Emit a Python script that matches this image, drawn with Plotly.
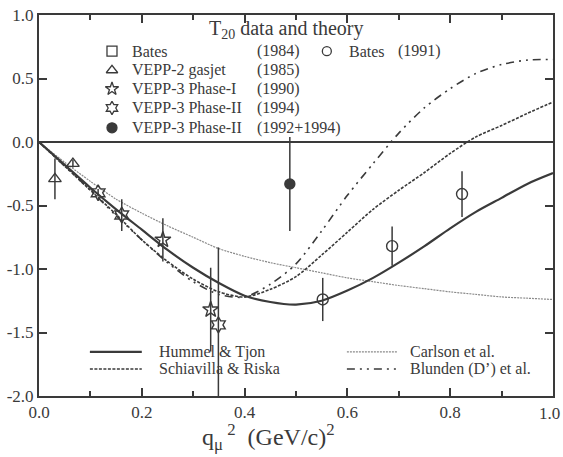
import plotly.graph_objects as go

# ---------------- data ----------------
q_grid = [0.0, 0.05, 0.1, 0.15, 0.2, 0.25, 0.3, 0.35, 0.4, 0.45, 0.5,
          0.55, 0.6, 0.65, 0.7, 0.75, 0.8, 0.85, 0.9, 0.95, 1.0]
hummel_tjon = [0.0, -0.18, -0.36, -0.53, -0.69, -0.85, -0.99, -1.11, -1.21, -1.26, -1.28,
               -1.25, -1.17, -1.07, -0.95, -0.82, -0.68, -0.55, -0.44, -0.33, -0.245]
schiavilla_riska = [0.0, -0.19, -0.38, -0.57, -0.77, -0.94, -1.08, -1.18, -1.22, -1.16, -1.06,
                    -0.89, -0.71, -0.53, -0.38, -0.24, -0.09, 0.04, 0.13, 0.225, 0.315]
carlson = [0.0, -0.16, -0.31, -0.45, -0.56, -0.66, -0.75, -0.84, -0.90, -0.95, -0.99,
           -1.03, -1.07, -1.10, -1.13, -1.155, -1.18, -1.20, -1.22, -1.23, -1.24]
blunden = [0.0, -0.19, -0.38, -0.58, -0.77, -0.95, -1.10, -1.20, -1.22, -1.12, -0.96,
           -0.70, -0.42, -0.17, 0.07, 0.27, 0.42, 0.54, 0.61, 0.645, 0.65]

vepp2_q = [0.031, 0.066]
vepp2_t = [-0.29, -0.17]
vepp2_e = [0.16, 0.03]

vepp3_1_q = [0.241, 0.334]
vepp3_1_t = [-0.77, -1.32]
vepp3_1_e = [0.17, 0.33]

vepp3_2_q = [0.115, 0.161, 0.349]
vepp3_2_t = [-0.40, -0.575, -1.44]
vepp3_2_e = [0.03, 0.125, 0.61]

vepp3_c_q = [0.488]
vepp3_c_t = [-0.33]
vepp3_c_e = [0.37]

bates91_q = [0.552, 0.687, 0.823]
bates91_t = [-1.24, -0.82, -0.41]
bates91_e = [0.17, 0.155, 0.18]

x_ticks = [0.0, 0.2, 0.4, 0.6, 0.8, 1.0]
x_tick_labels = ["0.0", "0.2", "0.4", "0.6", "0.8", "1.0"]
y_ticks = [1.0, 0.5, 0.0, -0.5, -1.0, -1.5, -2.0]
y_tick_labels = ["1.0", "0.5", "0.0", "-0.5", "-1.0", "-1.5", "-2.0"]

data_legend = [
    ("square-open", "Bates", "(1984)"),
    ("triangle-up-open", "VEPP-2 gasjet", "(1985)"),
    ("star-open", "VEPP-3 Phase-I", "(1990)"),
    ("hexagram-open", "VEPP-3 Phase-II", "(1994)"),
    ("circle", "VEPP-3 Phase-II", "(1992+1994)"),
]
curve_legend = ["Hummel & Tjon", "Schiavilla & Riska", "Carlson et al.", "Blunden (D’) et al."]

# ---------------- style ----------------
INK = "#3a3a3a"
FONT = "Liberation Serif"
DASH_S = "3px,1.5px"
DASH_C = "2px,1px"
DASH_B = "8px,5px,2px,5px,2px,5px"

fig = go.Figure()

# theory curves
fig.add_trace(go.Scatter(x=q_grid, y=carlson, mode="lines", line=dict(color="#8a8a8a", width=1.2, dash=DASH_C, shape="spline", smoothing=0.8)))
fig.add_trace(go.Scatter(x=q_grid, y=blunden, mode="lines", line=dict(color=INK, width=1.6, dash=DASH_B, shape="spline", smoothing=0.8)))
fig.add_trace(go.Scatter(x=q_grid, y=schiavilla_riska, mode="lines", line=dict(color=INK, width=1.6, dash=DASH_S, shape="spline", smoothing=0.8)))
fig.add_trace(go.Scatter(x=q_grid, y=hummel_tjon, mode="lines", line=dict(color=INK, width=2.2, shape="spline", smoothing=0.8)))

def pts(qs, ts, es, symbol, size=11):
    fig.add_trace(go.Scatter(
        x=qs, y=ts, mode="markers",
        marker=dict(symbol=symbol, size=size, color=INK, line=dict(color=INK, width=1.4)),
        error_y=dict(type="data", array=es, width=0, thickness=1.5, color=INK)))

pts(vepp2_q, vepp2_t, vepp2_e, "triangle-up-open")
pts(vepp3_1_q, vepp3_1_t, vepp3_1_e, "star-open", 12)
pts(vepp3_2_q, vepp3_2_t, vepp3_2_e, "hexagram-open", 12)
pts(vepp3_c_q, vepp3_c_t, vepp3_c_e, "circle", 10)
pts(bates91_q, bates91_t, bates91_e, "circle-open", 11)

# ---------------- legend keys (overlay axes in 0..1 units) ----------------
LEG_SIZE = 16
row_y = [0.905, 0.855, 0.806, 0.756, 0.704]
for (sym, name, year), yy in zip(data_legend, row_y):
    fig.add_trace(go.Scatter(x=[0.142], y=[yy], mode="markers", xaxis="x2", yaxis="y2",
                             marker=dict(symbol=sym, size=10, color=INK, line=dict(color=INK, width=1.3))))
    fig.add_annotation(xref="paper", yref="paper", x=0.177, y=yy, text=name, showarrow=False,
                       xanchor="left", yanchor="middle", font=dict(family=FONT, size=LEG_SIZE, color=INK))
    fig.add_annotation(xref="paper", yref="paper", x=0.420, y=yy, text=year, showarrow=False,
                       xanchor="left", yanchor="middle", font=dict(family=FONT, size=LEG_SIZE, color=INK))
fig.add_trace(go.Scatter(x=[0.560], y=[row_y[0]], mode="markers", xaxis="x2", yaxis="y2",
                         marker=dict(symbol="circle-open", size=9, color=INK, line=dict(color=INK, width=1.3))))
fig.add_annotation(xref="paper", yref="paper", x=0.599, y=row_y[0], text="Bates", showarrow=False,
                   xanchor="left", yanchor="middle", font=dict(family=FONT, size=LEG_SIZE, color=INK))
fig.add_annotation(xref="paper", yref="paper", x=0.694, y=row_y[0], text="(1991)", showarrow=False,
                   xanchor="left", yanchor="middle", font=dict(family=FONT, size=LEG_SIZE, color=INK))
fig.add_annotation(xref="paper", yref="paper", x=0.482, y=0.962, text="T<sub>20</sub> data and theory",
                   showarrow=False, xanchor="center", yanchor="middle", font=dict(family=FONT, size=20, color=INK))

curve_styles = [
    dict(color=INK, width=2.2),
    dict(color=INK, width=1.6, dash=DASH_S),
    dict(color="#8a8a8a", width=1.2, dash=DASH_C),
    dict(color=INK, width=1.6, dash=DASH_B),
]
key_pos = [(0.099, 0.200, 0.116, 0.230), (0.099, 0.200, 0.071, 0.230),
           (0.599, 0.698, 0.116, 0.718), (0.599, 0.698, 0.071, 0.718)]
for name, st, (x0, x1, yy, xt) in zip(curve_legend, curve_styles, key_pos):
    fig.add_trace(go.Scatter(x=[x0, x1], y=[yy, yy], mode="lines", xaxis="x2", yaxis="y2", line=st))
    fig.add_annotation(xref="paper", yref="paper", x=xt, y=yy, text=name, showarrow=False,
                       xanchor="left", yanchor="middle", font=dict(family=FONT, size=16, color=INK))

# last x tick label sits at the page edge (plotly would drop it), so draw it as text
fig.add_annotation(xref="paper", yref="paper", x=1.0175, y=-0.016, text=x_tick_labels[-1], showarrow=False,
                   xanchor="right", yanchor="top", font=dict(family=FONT, size=17, color=INK))

# x axis title
fig.add_annotation(xref="paper", yref="paper", x=0.447, y=-0.058,
                   text="q<sub>μ</sub><sup> 2</sup>  (GeV/c)<sup>2</sup>", showarrow=False,
                   xanchor="center", yanchor="top", font=dict(family=FONT, size=24, color=INK))

axis_common = dict(showline=True, linewidth=2, linecolor=INK, mirror="allticks", ticks="inside",
                   tickcolor=INK, tickwidth=1.5, ticklen=8, showgrid=False, automargin=False,
                   tickfont=dict(family=FONT, size=17, color=INK))

fig.update_layout(
    width=563, height=457,
    margin=dict(l=39, r=10, t=15, b=61),
    paper_bgcolor="white", plot_bgcolor="white",
    showlegend=False,
    xaxis=dict(range=[0, 1], tickvals=x_ticks, ticktext=x_tick_labels[:-1] + [""], zeroline=False,
               minor=dict(tickvals=[0.1, 0.3, 0.5, 0.7, 0.9], ticks="inside", ticklen=5, tickcolor=INK, tickwidth=1.5),
               **axis_common),
    yaxis=dict(range=[-2, 1], tickvals=y_ticks, ticktext=y_tick_labels, zeroline=True,
               zerolinecolor=INK, zerolinewidth=1.5, **axis_common),
    xaxis2=dict(range=[0, 1], overlaying="x", visible=False),
    yaxis2=dict(range=[0, 1], overlaying="y", visible=False),
)

fig.write_html("out.html", config={"displayModeBar": False},
               post_script="document.body.style.margin='0';document.body.style.overflow='hidden';")
